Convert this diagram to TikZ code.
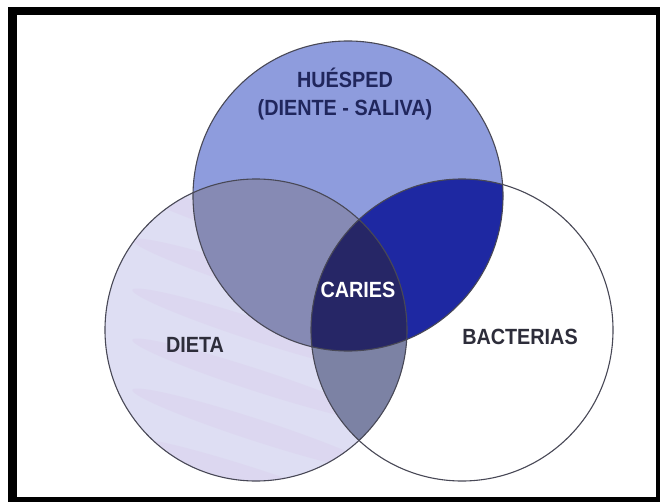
\documentclass[tikz,border=0pt]{standalone}
\usepackage{fontspec}
\setmainfont{Liberation Sans}
\newfontfamily\vennfont{Liberation Sans}[FakeStretch=0.9]
\usepackage{tikz}

\definecolor{hostblue}{RGB}{142,156,221}
\definecolor{dietlav}{RGB}{222,222,243}
\definecolor{streak}{RGB}{210,170,222}
\definecolor{hostdiet}{RGB}{134,138,180}
\definecolor{hostbact}{RGB}{30,40,162}
\definecolor{dietbact}{RGB}{124,130,164}
\definecolor{cariesnavy}{RGB}{38,38,102}
\definecolor{labelnavy}{RGB}{32,38,92}
\definecolor{labelgray}{RGB}{45,45,58}
\definecolor{rimgray}{RGB}{72,72,86}

\begin{document}
\begin{tikzpicture}[x=1pt,y=-1pt]
            \useasboundingbox (0,0) rectangle (660,502);
            \fill[white] (0,0) rectangle (660,502);

            \coordinate (H) at (348,196);
            \coordinate (D) at (256,330);
            \coordinate (B) at (462,330);

            % single circles
            \fill[hostblue] (H) circle (155);
            \fill[dietlav] (D) circle (151);
            \begin{scope}
                \clip (D) circle (151);
                \foreach \yy in {230,280,...,480}
                    \fill[streak, opacity=0.12, rotate around={-18:(256,\yy)}] (256,\yy) ellipse (130 and 11);
            \end{scope}

            % overlaps
            \begin{scope}
                \clip (H) circle (155);
                \fill[hostdiet] (D) circle (151);
                \fill[hostbact] (B) circle (151);
            \end{scope}
            \begin{scope}
                \clip (D) circle (151);
                \fill[dietbact] (B) circle (151);
            \end{scope}
            \begin{scope}
                \clip (H) circle (155);
                \clip (D) circle (151);
                \fill[cariesnavy] (B) circle (151);
            \end{scope}

            \begin{scope}[every path/.style={draw=rimgray, line width=1.1pt}]
                \path (H) circle (155);
                \path (D) circle (151);
                \path (B) circle (151);
            \end{scope}

            \begin{scope}[every node/.style={font=\vennfont\bfseries\fontsize{22}{28}\selectfont, inner sep=0pt, align=center}]
                \node[text=labelnavy] (host) at (345,94) {HUÉSPED\\(DIENTE - SALIVA)};
                \node[text=labelgray] (diet) at (195,345) {DIETA};
                \node[text=labelgray] (bact) at (520,337) {BACTERIAS};
                \node[text=white] (caries) at (358,290) {CARIES};
            \end{scope}

            % frame
            \fill[black] (8,7) rectangle (660,15);
            \fill[black] (8,7) rectangle (17,502);
            \fill[black] (8,497) rectangle (660,502);
            \fill[black] (656,7) rectangle (660,502);
        \end{tikzpicture}
\end{document}
